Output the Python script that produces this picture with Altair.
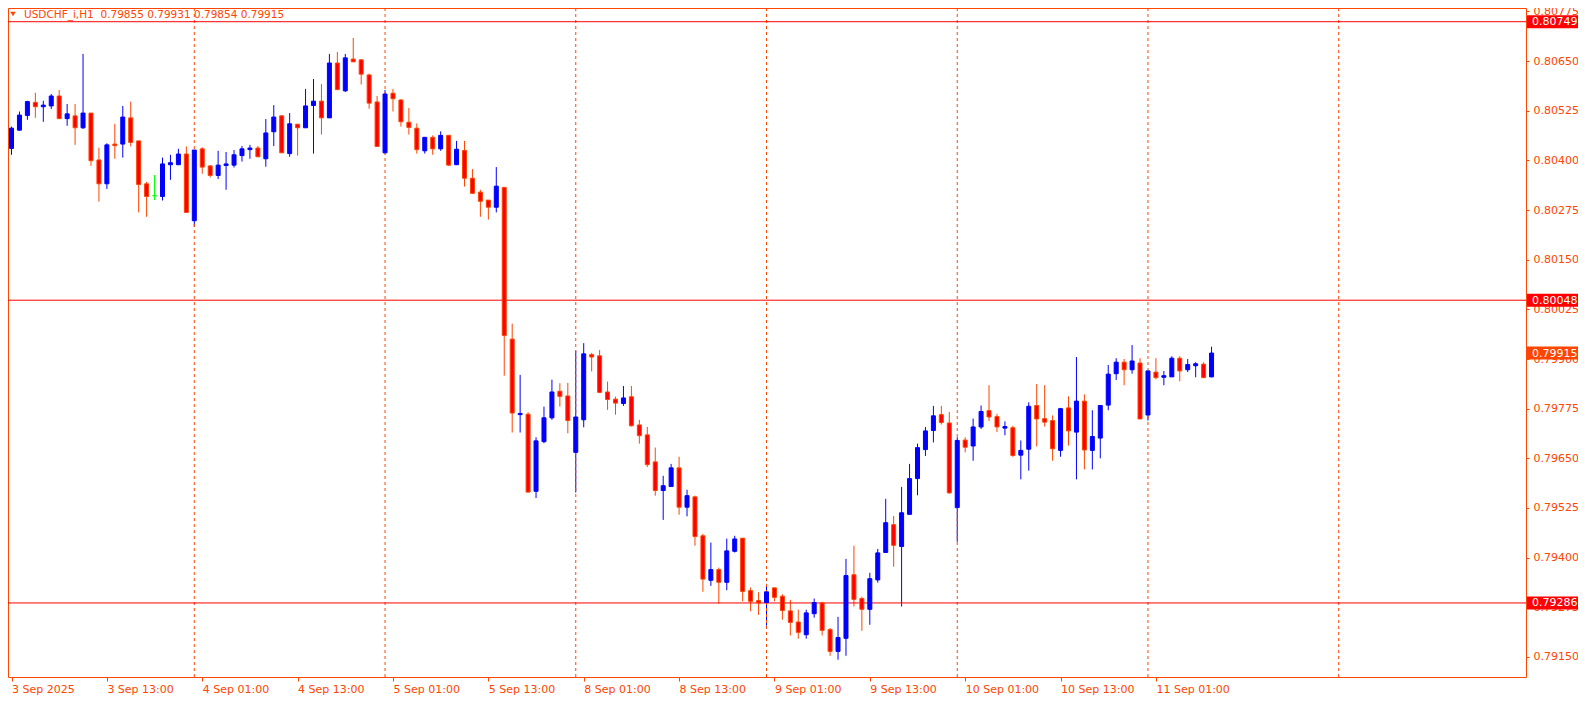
import altair as alt
import pandas as pd

# ---- OHLC data, USDCHF_i H1, bar index 1 = 3 Sep 01:00 (weekend skipped) ----
opens = [0.80430, 0.80476, 0.80513, 0.80546, 0.80535, 0.80537, 0.80562, 0.80505, 0.80512, 0.80482,
         0.80519, 0.80401, 0.80341, 0.80441, 0.80441, 0.80507, 0.80449, 0.80341, 0.80311, 0.80309,
         0.80389, 0.80389, 0.80416, 0.80248, 0.80429, 0.80386, 0.80362, 0.80387, 0.80388, 0.80412,
         0.80427, 0.80431, 0.80404, 0.80472, 0.80512, 0.80417, 0.80491, 0.80482, 0.80538, 0.80549,
         0.80507, 0.80645, 0.80575, 0.80655, 0.80653, 0.80615, 0.80547, 0.80419, 0.80569, 0.80552,
         0.80496, 0.80481, 0.80424, 0.80458, 0.80429, 0.80463, 0.80389, 0.80425, 0.80355, 0.80320,
         0.80300, 0.80282, 0.80332, 0.79950, 0.79760, 0.79761, 0.79567, 0.79692, 0.79752, 0.79819,
         0.79807, 0.79665, 0.79747, 0.79911, 0.79908, 0.79817, 0.79799, 0.79788, 0.79805, 0.79734,
         0.79709, 0.79641, 0.79569, 0.79579, 0.79626, 0.79527, 0.79553, 0.79455, 0.79343, 0.79370,
         0.79338, 0.79416, 0.79449, 0.79317, 0.79292, 0.79287, 0.79324, 0.79303, 0.79266, 0.79238,
         0.79206, 0.79259, 0.79286, 0.79219, 0.79164, 0.79197, 0.79357, 0.79297, 0.79270, 0.79344,
         0.79413, 0.79483, 0.79428, 0.79509, 0.79599, 0.79672, 0.79720, 0.79760, 0.79739, 0.79526,
         0.79696, 0.79681, 0.79729, 0.79770, 0.79755, 0.79726, 0.79727, 0.79658, 0.79673, 0.79783,
         0.79750, 0.79745, 0.79670, 0.79777, 0.79716, 0.79794, 0.79670, 0.79701, 0.79784, 0.79863,
         0.79892, 0.79873, 0.79890, 0.79759, 0.79867, 0.79854, 0.79855, 0.79902, 0.79873, 0.79883,
         0.79887, 0.79855]
highs = [0.80485, 0.80523, 0.80550, 0.80570, 0.80550, 0.80567, 0.80577, 0.80542, 0.80542, 0.80668,
         0.80519, 0.80432, 0.80443, 0.80492, 0.80537, 0.80548, 0.80449, 0.80346, 0.80363, 0.80407,
         0.80414, 0.80429, 0.80435, 0.80426, 0.80433, 0.80388, 0.80424, 0.80421, 0.80426, 0.80436,
         0.80439, 0.80436, 0.80504, 0.80539, 0.80514, 0.80519, 0.80491, 0.80580, 0.80605, 0.80592,
         0.80668, 0.80673, 0.80668, 0.80708, 0.80655, 0.80618, 0.80562, 0.80577, 0.80580, 0.80554,
         0.80532, 0.80493, 0.80458, 0.80463, 0.80473, 0.80463, 0.80449, 0.80449, 0.80378, 0.80326,
         0.80300, 0.80383, 0.80332, 0.79989, 0.79860, 0.79766, 0.79703, 0.79780, 0.79848, 0.79839,
         0.79840, 0.79921, 0.79940, 0.79915, 0.79923, 0.79843, 0.79805, 0.79832, 0.79832, 0.79747,
         0.79729, 0.79677, 0.79606, 0.79636, 0.79654, 0.79571, 0.79556, 0.79460, 0.79438, 0.79375,
         0.79448, 0.79455, 0.79449, 0.79325, 0.79313, 0.79334, 0.79324, 0.79308, 0.79294, 0.79269,
         0.79269, 0.79297, 0.79289, 0.79223, 0.79251, 0.79397, 0.79430, 0.79302, 0.79362, 0.79422,
         0.79548, 0.79505, 0.79578, 0.79636, 0.79687, 0.79729, 0.79782, 0.79782, 0.79767, 0.79703,
         0.79703, 0.79750, 0.79783, 0.79834, 0.79762, 0.79743, 0.79732, 0.79695, 0.79791, 0.79837,
         0.79834, 0.79758, 0.79777, 0.79806, 0.79905, 0.79811, 0.79771, 0.79783, 0.79885, 0.79902,
         0.79900, 0.79935, 0.79902, 0.79870, 0.79902, 0.79870, 0.79907, 0.79907, 0.79900, 0.79892,
         0.79892, 0.79931]
lows = [0.80414, 0.80475, 0.80502, 0.80507, 0.80497, 0.80529, 0.80505, 0.80487, 0.80439, 0.80479,
        0.80386, 0.80296, 0.80328, 0.80404, 0.80407, 0.80435, 0.80269, 0.80258, 0.80300, 0.80299,
        0.80351, 0.80389, 0.80269, 0.80233, 0.80366, 0.80357, 0.80353, 0.80326, 0.80382, 0.80397,
        0.80404, 0.80409, 0.80384, 0.80436, 0.80419, 0.80409, 0.80412, 0.80482, 0.80417, 0.80465,
        0.80507, 0.80578, 0.80572, 0.80648, 0.80591, 0.80530, 0.80435, 0.80417, 0.80523, 0.80485,
        0.80465, 0.80417, 0.80417, 0.80414, 0.80424, 0.80386, 0.80389, 0.80334, 0.80317, 0.80258,
        0.80251, 0.80269, 0.79858, 0.79715, 0.79715, 0.79565, 0.79550, 0.79688, 0.79747, 0.79780,
        0.79713, 0.79564, 0.79728, 0.79869, 0.79814, 0.79772, 0.79760, 0.79782, 0.79730, 0.79687,
        0.79628, 0.79556, 0.79495, 0.79579, 0.79508, 0.79504, 0.79430, 0.79314, 0.79329, 0.79284,
        0.79318, 0.79413, 0.79290, 0.79265, 0.79256, 0.79229, 0.79290, 0.79244, 0.79204, 0.79196,
        0.79196, 0.79249, 0.79204, 0.79153, 0.79143, 0.79153, 0.79277, 0.79216, 0.79231, 0.79337,
        0.79413, 0.79377, 0.79277, 0.79509, 0.79557, 0.79656, 0.79690, 0.79735, 0.79561, 0.79440,
        0.79665, 0.79644, 0.79724, 0.79744, 0.79716, 0.79708, 0.79654, 0.79597, 0.79619, 0.79680,
        0.79730, 0.79644, 0.79654, 0.79682, 0.79597, 0.79622, 0.79622, 0.79650, 0.79771, 0.79847,
        0.79834, 0.79863, 0.79749, 0.79745, 0.79849, 0.79834, 0.79855, 0.79844, 0.79867, 0.79854,
        0.79853, 0.79854]
closes = [0.80481, 0.80514, 0.80548, 0.80535, 0.80539, 0.80562, 0.80505, 0.80517, 0.80482, 0.80519,
          0.80399, 0.80341, 0.80439, 0.80437, 0.80509, 0.80445, 0.80339, 0.80309, 0.80311, 0.80391,
          0.80394, 0.80416, 0.80269, 0.80426, 0.80383, 0.80362, 0.80388, 0.80391, 0.80414, 0.80429,
          0.80431, 0.80409, 0.80469, 0.80509, 0.80419, 0.80492, 0.80482, 0.80537, 0.80549, 0.80507,
          0.80645, 0.80578, 0.80658, 0.80648, 0.80617, 0.80544, 0.80435, 0.80567, 0.80555, 0.80497,
          0.80483, 0.80427, 0.80458, 0.80429, 0.80463, 0.80388, 0.80428, 0.80355, 0.80317, 0.80297,
          0.80282, 0.80335, 0.79959, 0.79764, 0.79763, 0.79565, 0.79694, 0.79752, 0.79817, 0.79806,
          0.79745, 0.79754, 0.79913, 0.79905, 0.79816, 0.79798, 0.79789, 0.79802, 0.79732, 0.79707,
          0.79634, 0.79569, 0.79581, 0.79626, 0.79527, 0.79556, 0.79453, 0.79346, 0.79370, 0.79338,
          0.79417, 0.79447, 0.79315, 0.79290, 0.79286, 0.79314, 0.79300, 0.79267, 0.79237, 0.79212,
          0.79261, 0.79287, 0.79217, 0.79164, 0.79199, 0.79355, 0.79295, 0.79270, 0.79347, 0.79412,
          0.79488, 0.79431, 0.79513, 0.79599, 0.79677, 0.79719, 0.79757, 0.79740, 0.79563, 0.79695,
          0.79678, 0.79729, 0.79768, 0.79754, 0.79729, 0.79730, 0.79657, 0.79670, 0.79781, 0.79749,
          0.79741, 0.79674, 0.79775, 0.79719, 0.79794, 0.79671, 0.79705, 0.79783, 0.79862, 0.79892,
          0.79873, 0.79895, 0.79749, 0.79870, 0.79853, 0.79858, 0.79902, 0.79870, 0.79886, 0.79888,
          0.79853, 0.79915]
bar_index = list(range(1, len(opens) + 1))

day_separators = [24, 48, 72, 96, 120, 144, 168]
level_prices = [0.80749, 0.80048, 0.79286]
current_price = [0.79915]

y_tick_values = [0.79150, 0.79275, 0.79400, 0.79525, 0.79650, 0.79775, 0.79900,
                 0.80025, 0.80150, 0.80275, 0.80400, 0.80525, 0.80650, 0.80775]
x_tick_values = [1, 13, 25, 37, 49, 61, 73, 85, 97, 109, 121, 133, 145]
x_tick_labels = ["3 Sep 2025", "3 Sep 13:00", "4 Sep 01:00", "4 Sep 13:00", "5 Sep 01:00",
                 "5 Sep 13:00", "8 Sep 01:00", "8 Sep 13:00", "9 Sep 01:00", "9 Sep 13:00",
                 "10 Sep 01:00", "10 Sep 13:00", "11 Sep 01:00"]
header_text = "USDCHF_i,H1\u00a0\u00a00.79855 0.79931 0.79854 0.79915"

# ---- layout / style ----
W, H = 1518, 669
ORANGE = "#FF4500"
FONT = "DejaVu Sans"
FS = 11
FS_HEAD = 10.5


def direction(o, c):
    if c > o:
        return "up"
    if c < o:
        return "down"
    return "doji"


candles = pd.DataFrame({"h": bar_index, "o": opens, "hi": highs, "lo": lows, "c": closes})
candles["dir"] = [direction(o, c) for o, c in zip(opens, closes)]

xs = alt.Scale(domain=[1.1875, 190.9375], nice=False, zero=False)
ys = alt.Scale(domain=[0.790996, 0.807835], nice=False, zero=False)

dir_dom = ["up", "down", "doji"]
wick_col = alt.Scale(domain=dir_dom, range=["#0000FF", ORANGE, "#00FF00"])
fill_col = alt.Scale(domain=dir_dom, range=["#0000FF", "#FF0000", "#00FF00"])

label_expr = "[" + ",".join("'%s'" % s for s in x_tick_labels) + "][round((datum.value-1)/12)]"

x_axis = alt.Axis(values=x_tick_values, labelExpr=label_expr, labelAlign="left",
                  labelBaseline="top", labelPadding=2, tickSize=4, tickColor=ORANGE,
                  labelColor=ORANGE, labelFont=FONT, labelFontSize=FS, domain=False,
                  grid=False, title=None, labelFlush=False, labelOverlap=False, labelBound=False)
y_axis = alt.Axis(orient="right", values=y_tick_values, format=".5f", tickSize=3,
                  tickColor=ORANGE, labelColor=ORANGE, labelFont=FONT, labelFontSize=FS,
                  labelPadding=4, domain=False, grid=False, title=None, labelOverlap=False,
                  labelFlush=False)


def X(field):
    return alt.X(field, scale=xs, axis=x_axis)


def Y(field):
    return alt.Y(field, scale=ys, axis=y_axis)


# candles (wicks carry the axes)
wicks = alt.Chart(candles).mark_rule(strokeWidth=1).encode(
    x=X("h:Q"), y=Y("lo:Q"), y2="hi:Q",
    color=alt.Color("dir:N", scale=wick_col, legend=None),
)
bodies = alt.Chart(candles).mark_bar(size=4, strokeWidth=1).encode(
    x=X("h:Q"), y=Y("o:Q"), y2="c:Q",
    fill=alt.Fill("dir:N", scale=fill_col, legend=None),
    stroke=alt.Stroke("dir:N", scale=wick_col, legend=None),
)

# day separators
seps = alt.Chart(pd.DataFrame({"h": day_separators})).mark_rule(
    color=ORANGE, strokeDash=[3, 3], strokeWidth=1
).encode(x=X("h:Q"))

# horizontal levels
levels = alt.Chart(pd.DataFrame({"p": level_prices})).mark_rule(
    color="#FF0000", strokeWidth=1
).encode(y=Y("p:Q"))

# price tags on the right axis
half_box = 6.5 / (H / (ys.domain[1] - ys.domain[0]))


def tag_df(prices):
    d = pd.DataFrame({"p": prices})
    d["p0"] = d["p"] - half_box
    d["p1"] = d["p"] + half_box
    d["txt"] = ["%.5f" % v for v in d["p"]]
    return d


def tag_layers(prices, box_color):
    d = tag_df(prices)
    box = alt.Chart(d).mark_rect(color=box_color).encode(
        x=alt.value(W + 1), x2=alt.value(W + 53), y=Y("p0:Q"), y2="p1:Q",
    )
    txt = alt.Chart(d).mark_text(
        align="left", baseline="middle", color="white", font=FONT, fontSize=FS, dy=0.5
    ).encode(x=alt.value(W + 6), y=Y("p:Q"), text="txt:N")
    return [box, txt]


# header
head_df = pd.DataFrame({"t": [header_text]})
header = alt.Chart(head_df).mark_text(
    align="left", baseline="middle", color=ORANGE, font=FONT, fontSize=FS_HEAD
).encode(x=alt.value(16), y=alt.value(6.5), text="t:N")
tri = alt.Chart(head_df).mark_point(
    shape="triangle-down", filled=True, size=30, color=ORANGE, opacity=1
).encode(x=alt.value(5), y=alt.value(6))

layers = [wicks, seps, levels, bodies] + tag_layers(level_prices, "#FF0000") \
    + tag_layers(current_price, ORANGE) + [header, tri]

chart = alt.layer(*layers).properties(
    width=W, height=H,
    autosize=alt.AutoSizeParams(type="none"),
    padding={"left": 0, "top": 0, "right": 52, "bottom": 18},
    background="white",
).configure_view(stroke=ORANGE, strokeWidth=1)

chart.save("out.html", embed_options={"renderer": "svg", "actions": False})
